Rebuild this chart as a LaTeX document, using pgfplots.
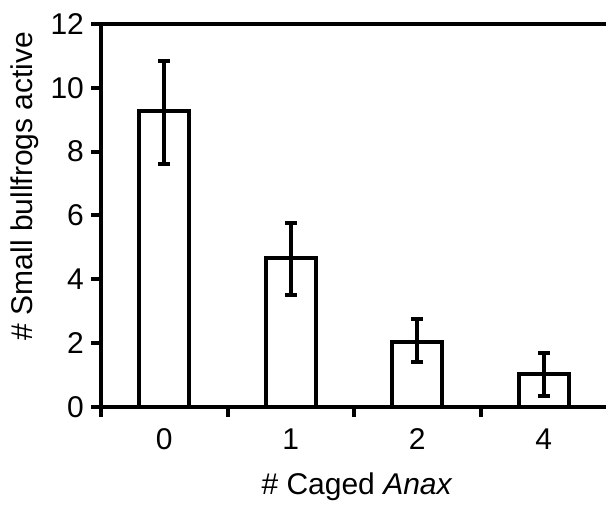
\documentclass[border=0pt]{standalone}
\usepackage{fontspec}
\setmainfont{Liberation Sans}
\usepackage{pgfplots}
\pgfplotsset{compat=1.18}
\begin{document}
\begin{tikzpicture}
\begin{axis}[
  name=ax,
  scale only axis,
  width=253pt, height=191.35pt,
  xmin=-0.5, xmax=3.5, ymin=0, ymax=12,
  axis x line=box, axis y line=left,
  axis line style={-, line width=2.2pt, black},
  tick pos=left,
  tick align=outside,
  major tick length=5pt,
  tick style={line width=2pt, black},
  ytick={0,2,4,6,8,10,12},
  xtick={-0.5,0.5,1.5,2.5},
  xticklabels={},
  extra x ticks={0,1,2,3},
  extra x tick labels={0,1,2,4},
  extra x tick style={major tick length=0pt, tick label style={yshift=-7.5pt}},
  /pgf/number format/assume math mode=true,
  tick label style={font=\fontsize{15}{18}\selectfont},
  label style={font=\fontsize{15}{18}\selectfont},
  xlabel={\# Caged \textit{Anax}},
  xlabel style={at={(axis description cs:0.506,0)}, anchor=base, yshift=-43.65pt},
  ylabel={\# Small bullfrogs active},
  ylabel style={at={(axis description cs:-0.1344,0.5767)}, anchor=base, rotate=0},
]
\addplot[ybar, bar width=25pt, draw=black, fill=white, line width=2pt,
  error bars/.cd, y dir=both, y explicit,
  error bar style={line width=2pt, black},
  error mark options={rotate=90, line width=2pt, mark size=3pt, black}]
  table[x=x, y=y, y error plus=ep, y error minus=em] {
  x y ep em
  0 9.27 1.57 1.67
  1 4.65 1.12 1.15
  2 2.04 0.71 0.63
  3 1.02 0.65 0.67
};
\end{axis}
\pgfresetboundingbox
\path[use as bounding box] ([xshift=-50.5pt,yshift=-48.65pt]ax.south west) rectangle ([xshift=-0.5pt,yshift=12pt]ax.north east);
\end{tikzpicture}
\end{document}
